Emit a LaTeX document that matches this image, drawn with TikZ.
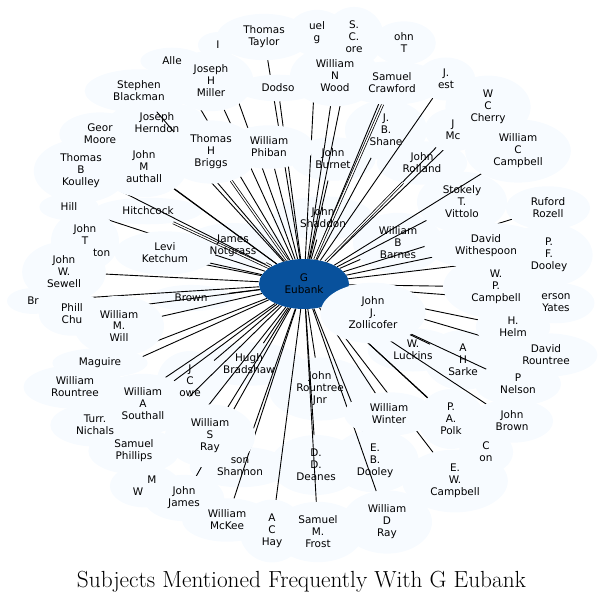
\documentclass[tikz,border=0pt]{standalone}
\usepackage{fontspec}
\newfontfamily\lblfont{DejaVu Sans}
\usetikzlibrary{shapes.geometric,calc}
\definecolor{cloud}{HTML}{F7FBFF}
\definecolor{hub}{HTML}{08519C}
\pgfdeclarelayer{fillslow}
\pgfdeclarelayer{edges}
\pgfdeclarelayer{fillshigh}
\pgfdeclarelayer{hublayer}
\pgfdeclarelayer{notch}
\pgfsetlayers{fillslow,edges,fillshigh,hublayer,notch,main}
\tikzset{
  lbl/.style={ellipse, inner xsep=12.5bp, inner ysep=5.2bp, align=center,
    font=\lblfont\fontsize{10.5}{12}\selectfont, text=black},
  edge/.style={draw=black, line width=0.9bp},
  dbl/.style={draw=black, line width=0.75bp, double=white, double distance=1.3bp},
  cloudfill/.style={fill=cloud, draw=none}
}
\begin{document}
\begin{tikzpicture}[x=1bp,y=-1bp]
\useasboundingbox (0,0) rectangle (603,603);
% ---- labelled nodes
\node[lbl] (n1) at (172,61) {Alle};
\node[lbl] (n2) at (218,45) {I};
\node[lbl] (n3) at (211,81) {Joseph\\H\\Miller};
\node[lbl] (n4) at (139,91) {Stephen\\Blackman};
\node[lbl] (n5) at (157,123) {Joseph\\Herndon};
\node[lbl] (n6) at (100,134) {Geor\\Moore};
\node[lbl] (n7) at (81,171) {Thomas\\B\\Koulley};
\node[lbl] (n8) at (144,167) {John\\M\\authall};
\node[lbl] (n9) at (211,152) {Thomas\\H\\Briggs};
\node[lbl] (n10) at (69,207) {Hill};
\node[lbl] (n11) at (148,211) {Hitchcock};
\node[lbl] (n12) at (264,37) {Thomas\\Taylor};
\node[lbl] (n13) at (317,33) {uel\\g};
\node[lbl] (n14) at (354,37) {S.\\C.\\ore};
\node[lbl] (n15) at (404,43) {ohn\\T};
\node[lbl] (n16) at (278,88) {Dodso};
\node[lbl] (n17) at (335,76) {William\\N\\Wood};
\node[lbl] (n18) at (392,83) {Samuel\\Crawford};
\node[lbl] (n19) at (386,130) {J.\\B.\\Shane};
\node[lbl] (n20) at (269,147) {William\\Phiban};
\node[lbl] (n21) at (333,159) {John\\Burnet};
\node[lbl] (n22) at (323,218) {John\\Shaddon};
\node[lbl] (n23) at (446,79) {J.\\est};
\node[lbl] (n24) at (488,107) {W\\C\\Cherry};
\node[lbl] (n25) at (453,130) {J\\Mc};
\node[lbl] (n26) at (518,151) {William\\C\\Campbell};
\node[lbl] (n27) at (422,163) {John\\Rolland};
\node[lbl] (n28) at (462,202) {Stokely\\T.\\Vittolo};
\node[lbl] (n29) at (548,208) {Ruford\\Rozell};
\node[lbl] (n30) at (85,241) {John\\T\\\makebox[0pt][l]{\hspace*{8bp}ton}};
\node[lbl] (n31) at (64,272) {John\\W.\\Sewell};
\node[lbl] (n32) at (165,253) {Levi\\Ketchum};
\node[lbl] (n33) at (233,246) {James\\Notgrass};
\node[lbl] (n34) at (33,301) {Br};
\node[lbl] (n35) at (72,314) {Phill\\Chu};
\node[lbl] (n36) at (191,298) {Brown};
\node[lbl] (n37) at (119,326) {William\\M.\\Will};
\node[lbl] (n38) at (100,363) {Maguire};
\node[lbl] (n39) at (75,387) {William\\Rountree};
\node[lbl] (n40) at (143,404) {William\\A\\Southall};
\node[lbl] (n41) at (190,381) {J\\C\\owe};
\node[lbl] (n42) at (398,243) {William\\B\\Barnes};
\node[lbl] (n43) at (373,313) {John\\J.\\Zollicofer};
\node[lbl] (n44) at (249,364) {Hugh\\Bradshaw};
\node[lbl] (n45) at (320,389) {John\\Rountree\\Jnr};
\node[lbl] (n46) at (413,350) {W.\\Luckins};
\node[lbl] (n47) at (389,414) {William\\Winter};
\node[lbl] (n48) at (486,246) {David\\Withespoon};
\node[lbl] (n49) at (549,255) {P.\\F.\\Dooley};
\node[lbl] (n50) at (496,287) {W.\\P.\\Campbell};
\node[lbl] (n51) at (556,303) {erson\\Yates};
\node[lbl] (n52) at (513,327) {H.\\Helm};
\node[lbl] (n53) at (463,360) {A\\H\\Sarke};
\node[lbl] (n54) at (546,355) {David\\Rountree};
\node[lbl] (n55) at (518,384) {P\\Nelson};
\node[lbl] (n56) at (95,425) {Turr.\\Nichals};
\node[lbl] (n57) at (134,451) {Samuel\\Phillips};
\node[lbl] (n58) at (210,436) {William\\S\\Ray};
\node[lbl] (n59) at (145,486) {\hspace*{14bp}M\\W\hspace*{14bp}};
\node[lbl] (n60) at (184,498) {John\\James};
\node[lbl] (n61) at (240,467) {son\\Shannon};
\node[lbl] (n62) at (227,520) {William\\McKee};
\node[lbl] (n63) at (272,531) {A\\C\\Hay};
\node[lbl] (n64) at (316,465) {D.\\D.\\Deanes};
\node[lbl] (n65) at (318,532) {Samuel\\M.\\Frost};
\node[lbl] (n66) at (375,461) {E.\\B.\\Dooley};
\node[lbl] (n67) at (387,522) {William\\D\\Ray};
\node[lbl] (n68) at (451,419) {P.\\A.\\Polk};
\node[lbl] (n69) at (512,421) {John\\Brown};
\node[lbl] (n70) at (486,452) {C\\on};
\node[lbl] (n71) at (455,481) {E.\\W.\\Campbell};
% ---- hub
\begin{pgfonlayer}{hublayer}
\node[ellipse, fill=hub, minimum width=90bp, minimum height=50bp, inner sep=0pt,
  align=center, font=\lblfont\fontsize{10.5}{12}\selectfont, text=black] (G) at (304,284) {G\\Eubank};
\end{pgfonlayer}
% ---- title
\node[font=\fontsize{23.4}{27}\selectfont, anchor=base, inner sep=0pt] (title) at (301.5,587)
  {Subjects Mentioned Frequently With G Eubank};
% ---- fills under the edges
\begin{pgfonlayer}{fillslow}
\foreach \nd in {n5,n11,n19,n21,n22,n27,n28,n33,n36,n41,n42,n44,n45,n46,n53,n61,n64,n66}{
  \fill[cloudfill] let \p1=(\nd.center), \p2=(\nd.east), \p3=(\nd.north) in
    (\p1) ellipse ({\x2-\x1} and {\y3-\y1});
}
\end{pgfonlayer}
% ---- fills over the edges
\begin{pgfonlayer}{fillshigh}
\foreach \nd in {n1,n2,n3,n4,n6,n7,n8,n9,n10,n12,n13,n14,n15,n16,n17,n18,n20,n23,n24,n25,n26,n29,n30,
  n31,n32,n34,n35,n37,n38,n39,n40,n43,n47,n48,n49,n50,n51,n52,n54,n55,n56,n57,n58,n59,n60,
  n62,n63,n65,n67,n68,n69,n70,n71}{
  \fill[cloudfill] let \p1=(\nd.center), \p2=(\nd.east), \p3=(\nd.north) in
    (\p1) ellipse ({\x2-\x1} and {\y3-\y1});
}
\end{pgfonlayer}
% ---- notch over the hub
\begin{pgfonlayer}{notch}
\fill[cloudfill] let \p1=(n43.center), \p2=(n43.east), \p3=(n43.north) in
    (\p1) ellipse ({\x2-\x1} and {\y3-\y1});
\end{pgfonlayer}
% ---- edges
\begin{pgfonlayer}{edges}
\foreach \nd in {n1,n2,n3,n4,n5,n6,n7,n8,n10,n12,n13,n14,n15,n16,n17,n19,n20,n21,n22,n23,n24,n25,n26,
  n28,n29,n30,n31,n32,n34,n35,n36,n37,n38,n39,n40,n41,n42,n43,n44,n45,n46,n47,n48,n49,n50,
  n51,n52,n53,n54,n55,n56,n57,n58,n59,n60,n61,n62,n63,n64,n65,n66,n67,n68,n69,n70,n71}{
  \draw[edge] (G) -- (\nd);
}
\foreach \nd in {n9,n11,n18,n27,n33}{
  \draw[dbl] (G) -- (\nd);
}
\end{pgfonlayer}
\end{tikzpicture}
\end{document}
